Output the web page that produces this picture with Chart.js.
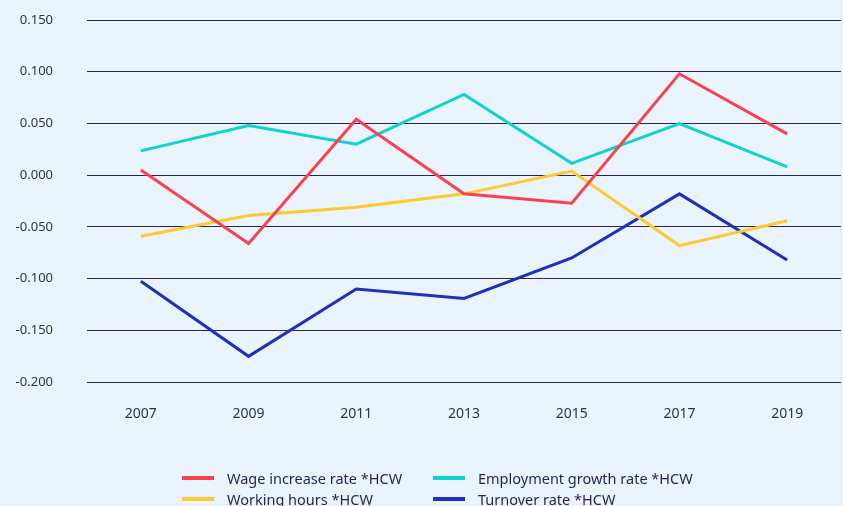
<!DOCTYPE html>
<html>
<head>
<meta charset="utf-8">
<script src="https://cdn.jsdelivr.net/npm/chart.js@4/dist/chart.umd.min.js"></script>
<style>
  html, body { margin: 0; padding: 0; background: #EAF4FD; overflow: hidden; }
  #wrap { position: relative; width: 843px; height: 506px; }
  #legend {
    position: absolute; left: 182px; top: 467px;
    display: grid; grid-template-columns: 251px auto; row-gap: 0px;
    font-family: "Noto Sans", sans-serif; font-size: 14.5px; color: #2b1f52;
  }
  .item { display: flex; align-items: center; height: 21px; white-space: nowrap; }
  .swatch { width: 32px; height: 4px; margin-right: 13px; }
</style>
</head>
<body>
<div id="wrap">
  <canvas id="c" width="843" height="506"></canvas>
  <div id="legend"></div>
</div>
<script>
const years = ['2007', '2009', '2011', '2013', '2015', '2017', '2019'];

const wageIncrease   = [0.005, -0.066, 0.054, -0.018, -0.027, 0.098, 0.040];
const employment     = [0.0235, 0.048, 0.030, 0.078, 0.0115, 0.050, 0.008];
const workingHours   = [-0.059, -0.039, -0.031, -0.018, 0.004, -0.068, -0.044];
const turnover       = [-0.1025, -0.175, -0.110, -0.119, -0.080, -0.018, -0.082];

const seriesNames = [
  'Wage increase rate *HCW',
  'Employment growth rate *HCW',
  'Working hours *HCW',
  'Turnover rate *HCW'
];
const seriesColors = ['#FA4150', '#12D2CF', '#FFCA30', '#2130B8'];

const yTicks = { min: -0.2, max: 0.15, step: 0.05 };

function line(label, data, color) {
  return {
    label, data,
    borderColor: color, backgroundColor: color,
    borderWidth: 3, pointRadius: 0, tension: 0, fill: false
  };
}

const chart = new Chart(document.getElementById('c'), {
  type: 'line',
  data: {
    labels: years,
    datasets: [
      line(seriesNames[0], wageIncrease, seriesColors[0]),
      line(seriesNames[1], employment, seriesColors[1]),
      line(seriesNames[2], workingHours, seriesColors[2]),
      line(seriesNames[3], turnover, seriesColors[3])
    ]
  },
  options: {
    responsive: false,
    animation: false,
    layout: { padding: { top: 20, right: 2, left: 0, bottom: 69 } },
    plugins: { legend: { display: false }, tooltip: { enabled: false } },
    scales: {
      x: {
        offset: true,
        grid: { display: false },
        border: { display: false },
        ticks: {
          color: '#33304a', padding: 15,
          font: { family: 'Noto Sans', size: 14 },
          maxRotation: 0
        }
      },
      y: {
        min: yTicks.min, max: yTicks.max,
        grid: { color: '#2e2160', lineWidth: 1, drawTicks: false },
        border: { display: false },
        ticks: {
          stepSize: yTicks.step,
          color: '#33304a', padding: 34,
          font: { family: 'Noto Sans', size: 13 },
          callback: v => (Math.abs(v) < 1e-9 ? 0 : v).toFixed(3)
        },
        afterFit(scale) {
          // fixed axis width; keep the label gap from reserving space above/below
          scale.width = 87;
          scale.paddingTop = 0;
          scale.paddingBottom = 0;
        }
      }
    }
  }
});

// Two-column legend built from the chart's datasets
const legendEl = document.getElementById('legend');
chart.data.datasets.forEach(ds => {
  const item = document.createElement('div');
  item.className = 'item';
  const sw = document.createElement('span');
  sw.className = 'swatch';
  sw.style.background = ds.borderColor;
  const tx = document.createElement('span');
  tx.textContent = ds.label;
  item.appendChild(sw);
  item.appendChild(tx);
  legendEl.appendChild(item);
});
</script>
</body>
</html>
